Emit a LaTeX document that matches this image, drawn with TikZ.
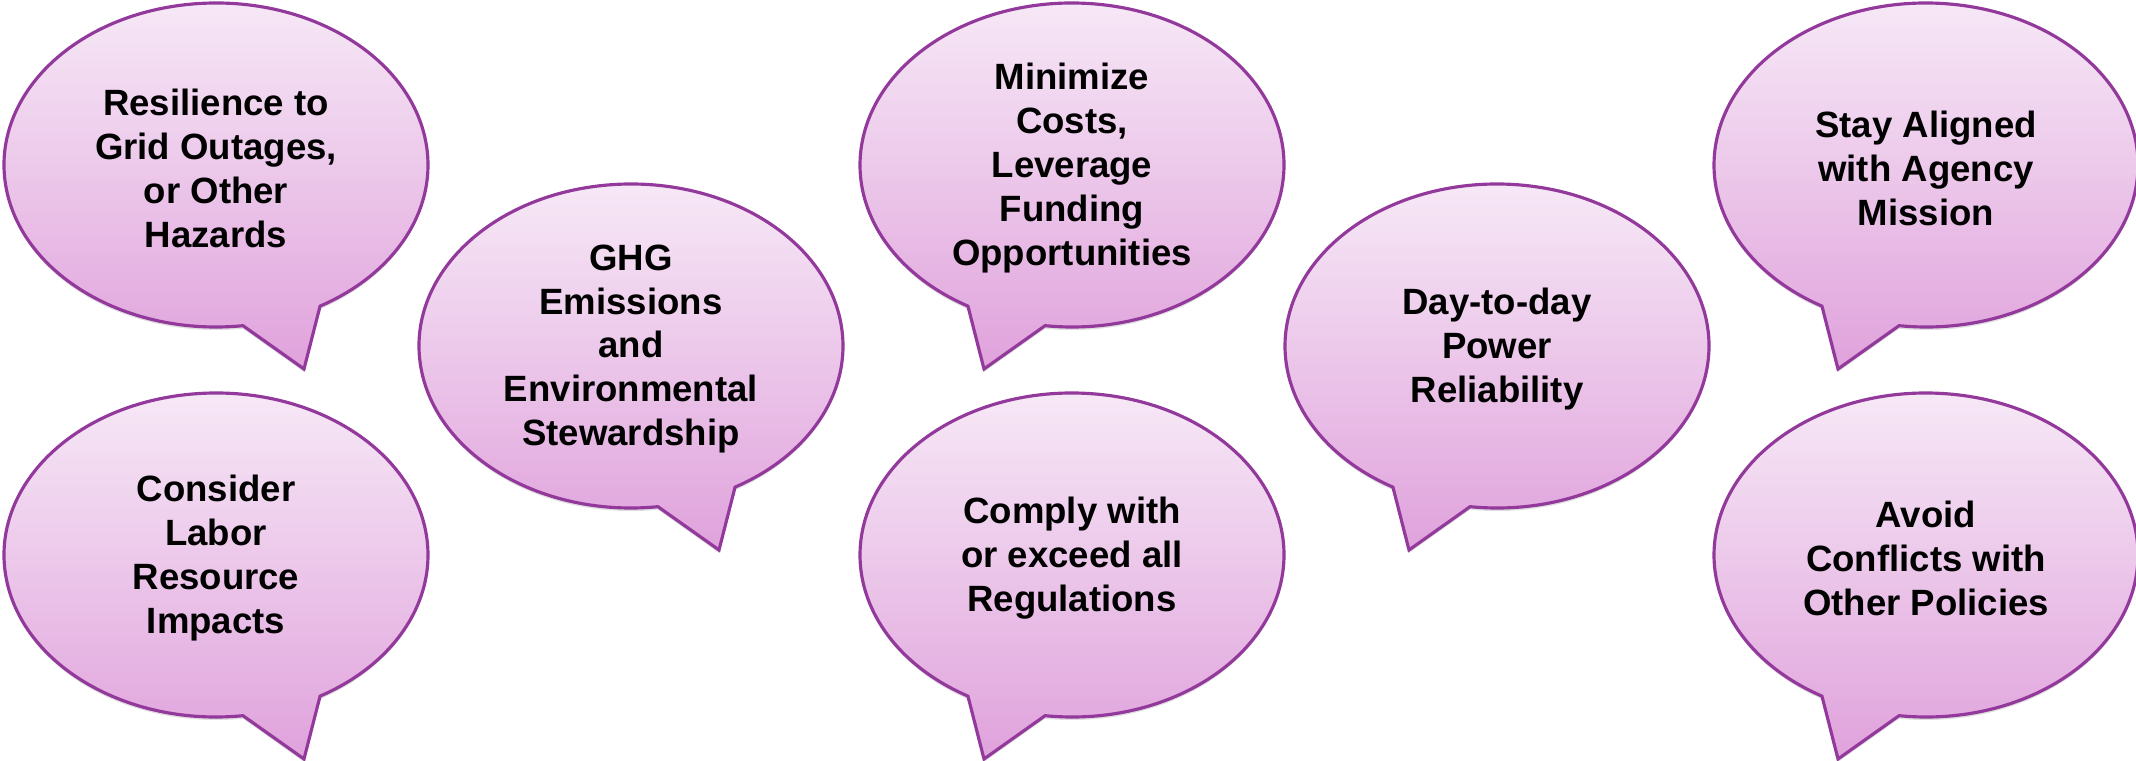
\documentclass[tikz,border=0pt]{standalone}
\usepackage{fontspec}
\setmainfont{Liberation Sans}
\usepackage{tikz}

\definecolor{bubtop}{HTML}{F7EAF7}
\definecolor{bubbot}{HTML}{E0A2DC}
\definecolor{bubline}{HTML}{92399B}

% outline of one speech bubble, centred on the origin, tail to the lower right
\newcommand{\bubpath}{(82.7:212 and 162) arc[start angle=82.7,end angle=420.6,x radius=212,y radius=162] -- (88,204) -- cycle}

\begin{document}
\begin{tikzpicture}[x=0.01cm,y=-0.01cm,
  bubble/.style={draw=bubline,line width=0.9pt,top color=bubtop,bottom color=bubbot},
  bubshadow/.style={fill=black,opacity=0.13},
  txt/.style={align=center,font=\fontsize{10.4}{12.5}\selectfont\bfseries}]
  \useasboundingbox (0,0) rectangle (2136,761);
  \foreach \cx/\cy/\d/\nm/\txt in {%
    {216/165/1/resilience/Resilience to\\Grid Outages,\\or Other\\Hazards},
    {216/555/1/labor/Consider\\Labor\\Resource\\Impacts},
    {631/346/1/ghg/GHG\\Emissions\\and\\Environmental\\Stewardship},
    {1072/165/-1/costs/Minimize\\Costs,\\Leverage\\Funding\\Opportunities},
    {1072/555/-1/comply/Comply with\\or exceed all\\Regulations},
    {1497/346/-1/power/Day-to-day\\Power\\Reliability},
    {1926/165/-1/mission/Stay Aligned\\with Agency\\Mission},
    {1926/555/-1/policies/Avoid\\Conflicts with\\Other Policies}}{%
    \begin{scope}[shift={(\cx,\cy)},xscale=\d]
      \fill[bubshadow,shift={(0,3)}] \bubpath;
      \draw[bubble] \bubpath;
    \end{scope}
    \node[txt] (\nm) at (\cx,\cy+3) {\txt};
  }
\end{tikzpicture}
\end{document}
